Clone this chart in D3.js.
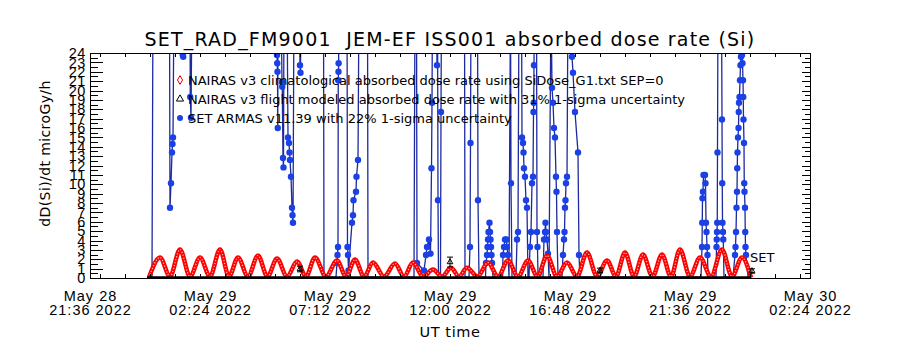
<!DOCTYPE html>
<html>
<head>
<meta charset="utf-8">
<script src="https://cdn.jsdelivr.net/npm/d3@7"></script>
<style>
  body { margin: 0; background: #fff; }
  svg { display: block; font-family: "DejaVu Sans", sans-serif; }
</style>
</head>
<body>
<div id="chart"></div>
<script>
// all times are hours after 2022-05-29 00:00 UT
// SET ARMAS v11.39 (40 = off the top of the scale)
const setHours = [0.0, 0.08, 0.12, 0.78, 0.80, 0.84, 0.88, 0.90, 0.92, 0.96,
  1.28, 1.31, 1.33, 1.36, 1.60, 1.61, 1.64, 1.68,
  5.04, 5.08, 5.09, 5.10, 5.11, 5.12, 5.24, 5.28, 5.29, 5.32, 5.34, 5.36,
  5.48, 5.52, 5.56, 5.58, 5.60, 5.64, 5.68, 5.70, 5.72, 5.76, 5.96, 6.00, 6.02, 6.04,
  6.94, 6.96, 7.44, 7.48, 7.50, 7.52, 7.53, 7.54, 7.545, 7.56,
  7.88, 7.90, 7.92, 7.94, 8.08, 8.12, 8.14, 8.24, 8.26, 8.32, 8.36, 8.70, 8.72,
  10.56, 10.60, 10.66, 10.68, 10.96, 11.04, 11.08, 11.16, 11.22, 11.26, 11.28, 11.30,
  11.46, 11.48, 11.50, 11.52, 11.54, 11.62, 11.64, 11.66,
  12.58, 12.60, 12.76, 12.80, 12.82, 12.84, 13.10, 13.12, 13.16,
  13.42, 13.44, 13.48, 13.50, 13.52, 13.54, 13.58, 13.60, 13.62, 13.64, 13.66, 13.68, 13.72,
  14.10, 14.12, 14.16, 14.20, 14.26, 14.28, 14.32, 14.36, 14.42, 14.44, 14.48,
  14.64, 14.68, 14.72, 14.76, 14.86, 14.88, 14.92, 14.94, 14.96, 15.00, 15.04, 15.08, 15.12,
  15.16, 15.20, 15.24, 15.28, 15.32, 15.34, 15.35, 15.36, 15.38, 15.46, 15.48, 15.50, 15.52,
  15.72, 15.76, 15.80, 15.82, 15.84, 15.88, 15.92, 15.96,
  16.04, 16.08, 16.12, 16.16, 16.20, 16.24, 16.26, 16.28, 16.32,
  16.48, 16.52, 16.56, 16.58, 16.60, 16.62, 16.64, 16.68, 16.72,
  16.84, 16.88, 16.92, 17.00, 17.12, 17.16, 17.20,
  22.04, 22.08, 22.09, 22.10, 22.12, 22.14, 22.20, 22.22, 22.24, 22.26, 22.28, 22.30, 22.32,
  22.64, 22.66, 22.67, 22.68, 22.69, 22.70, 22.72, 22.86, 22.88, 22.89, 22.90, 22.92, 22.93, 22.96,
  23.32, 23.40, 23.42, 23.44, 23.46, 23.48, 23.49, 23.50, 23.52, 23.54, 23.55, 23.56, 23.58,
  23.60, 23.62, 23.64, 23.68, 23.70, 23.72, 23.73, 23.74, 23.76, 23.77, 23.78, 23.80, 23.81,
  23.82, 23.84, 23.92];
const setDose = [0.1, 0.1, 40, 40, 7.5, 10.1, 13.4, 14.3, 15.0, 40,
  40, 23.8, 23.6, 40, 40, 19.3, 17.1, 40,
  40, 23.8, 22.9, 22.0, 16.0, 40, 40, 20.9, 20.4, 12.8, 11.8, 40,
  40, 15.0, 14.4, 13.4, 12.6, 10.8, 7.5, 6.7, 5.9, 40, 40, 22.7, 21.9, 40,
  40, 0.1, 0.1, 1.6, 2.45, 3.3, 21.1, 22.0, 22.9, 40,
  40, 3.3, 2.45, 0.8, 5.9, 6.7, 8.3, 9.2, 10.8, 12.6, 40, 40, 0.1,
  0.1, 40, 40, 1.6, 0.8, 2.45, 3.3, 4.1, 2.6, 11.7, 18.7, 40,
  40, 22.7, 40, 8.3, 0.1, 0.1, 17.7, 40,
  40, 0.1, 0.1, 3.3, 14.4, 40, 40, 8.3, 0.1,
  0.1, 1.6, 2.45, 3.3, 4.1, 4.9, 5.9, 4.9, 4.1, 3.3, 2.45, 1.6, 0.1,
  0.1, 2.45, 3.3, 4.1, 4.1, 3.3, 2.45, 0.1, 40, 10.1, 0.1,
  0.1, 4.1, 4.9, 40, 40, 15.0, 14.4, 13.4, 11.7, 10.8, 8.3, 7.5, 0.1,
  0.1, 3.3, 4.9, 10.1, 10.8, 17.7, 18.7, 22.7, 40, 40, 4.9, 3.3, 0.1,
  0.1, 4.1, 4.9, 5.9, 4.9, 4.1, 2.6, 0.1,
  40, 20.3, 18.7, 16.0, 15.0, 10.8, 9.2, 4.9, 0.1,
  0.1, 2.45, 4.1, 4.9, 7.5, 8.3, 10.1, 10.8, 40,
  40, 23.6, 21.9, 17.7, 13.4, 2.45, 0.1,
  0.1, 3.3, 5.9, 8.5, 9.2, 11.0, 11.0, 10.1, 5.9, 4.9, 3.3, 2.45, 0.1,
  0.1, 3.3, 4.1, 4.9, 5.9, 13.4, 40, 40, 16.9, 10.1, 5.9, 4.9, 4.1, 0.1,
  0.1, 2.45, 3.3, 4.9, 7.5, 9.2, 11.7, 13.4, 15.0, 16.0, 17.7, 18.7, 19.3,
  21.1, 22.7, 23.6, 23.8, 22.9, 21.1, 19.3, 16.9, 14.4, 10.1, 9.2, 7.5, 4.9,
  3.3, 2.45, 0.1];

// NAIRAS v3 climatological (troughs and peaks of each half-orbit)
const naiHours = [-0.04, 0.4, 0.8, 1.2, 1.6, 2.0, 2.4, 2.8, 3.16, 3.52, 3.92, 4.32, 4.7, 5.08,
  5.48, 5.88, 6.24, 6.6, 7.04, 7.48, 7.84, 8.2, 8.56, 8.92, 9.36, 9.8, 10.16, 10.52,
  10.92, 11.32, 11.68, 12.04, 12.36, 12.68, 13.1, 13.52, 13.92, 14.32, 14.72, 15.12,
  15.5, 15.88, 16.28, 16.68, 17.08, 17.48, 17.88, 18.28, 18.64, 19.0, 19.36, 19.72,
  20.1, 20.48, 20.84, 21.2, 21.6, 22.0, 22.44, 22.88, 23.28, 23.68, 24.04];
const naiDose = [0.05, 2.19, 0.15, 3.04, 0.15, 2.19, 0.15, 3.04, 0.15, 2.19, 0.15, 2.4, 0.15, 2.08,
  0.15, 1.76, 0.15, 2.19, 0.15, 1.87, 0.15, 1.97, 0.15, 1.65, 0.15, 1.55, 0.15, 1.65,
  0.15, 0.9, 0.15, 1.1, 0.15, 1.1, 0.15, 1.65, 0.15, 1.87, 0.15, 1.87,
  0.15, 2.4, 0.15, 1.65, 0.15, 2.72, 0.15, 1.87, 0.15, 2.72, 0.15, 2.5,
  0.15, 2.5, 0.15, 3.04, 0.15, 2.19, 0.15, 3.04, 0.15, 2.19, 0.05];

// NAIRAS v3 flight modeled, 31% 1-sigma
const flightHours = [6.0, 12.0, 18.0, 24.08];
const flightDose = [0.96, 1.7, 0.8, 0.75];
const flightSigma = 0.31;
const trackHours = [-0.12, 24.05];
const trackDose = [0.02, 0.02];

const xTickTimes = ["2022-05-28 21:36", "2022-05-29 02:24", "2022-05-29 07:12", "2022-05-29 12:00",
  "2022-05-29 16:48", "2022-05-29 21:36", "2022-05-30 02:24"];
const xTickLabels = [["May 28", "21:36 2022"], ["May 29", "02:24 2022"], ["May 29", "07:12 2022"],
  ["May 29", "12:00 2022"], ["May 29", "16:48 2022"], ["May 29", "21:36 2022"], ["May 30", "02:24 2022"]];
const yTickValues = [0, 1, 2, 3, 4, 5, 6, 7, 8, 9, 10, 11, 12, 13, 14, 15, 16, 17, 18, 19, 20, 21, 22, 23, 24];
const legendLabels = [
  "NAIRAS v3 climatological absorbed dose rate using SiDose_G1.txt SEP=0",
  "NAIRAS v3 flight modeled absorbed dose rate with 31% 1-sigma uncertainty",
  "SET ARMAS v11.39 with 22% 1-sigma uncertainty"
];

const W = 900, H = 350;
const margin = { top: 53, right: 90, bottom: 72, left: 90 };
const width = W - margin.left - margin.right;
const height = H - margin.top - margin.bottom;

const parseT = d3.utcParse("%Y-%m-%d %H:%M");
const t0 = Date.UTC(2022, 4, 29);
const toDate = h => new Date(t0 + h * 3600e3);

const svg = d3.select("#chart").append("svg")
  .attr("width", W).attr("height", H);
svg.append("rect").attr("width", W).attr("height", H).attr("fill", "#fff");

const g = svg.append("g").attr("transform", `translate(${margin.left},${margin.top})`);

const x = d3.scaleUtc()
  .domain([parseT(xTickTimes[0]), parseT(xTickTimes[xTickTimes.length - 1])])
  .range([0, width]);
const y = d3.scaleLinear().domain([0, 24]).range([height, 0]);

g.append("clipPath").attr("id", "plot").append("rect")
  .attr("width", width).attr("height", height);

const data = g.append("g").attr("clip-path", "url(#plot)");

// SET ARMAS line + dots
const setPts = setHours.map((h, i) => ({ t: toDate(h), v: setDose[i] }));
data.append("path")
  .datum(setPts)
  .attr("fill", "none")
  .attr("stroke", "#1c2a9e")
  .attr("stroke-width", 1.3)
  .attr("d", d3.line().x(d => x(d.t)).y(d => y(Math.min(d.v, 30))));
data.selectAll(".setdot")
  .data(setPts.filter(d => d.v > 0.5 && d.v < 25))
  .enter().append("circle")
  .attr("cx", d => x(d.t)).attr("cy", d => y(d.v))
  .attr("r", 3.2).attr("fill", "#1a40e6");

// NAIRAS climatological band
const naiPts = naiHours.map((h, i) => ({ t: toDate(h), v: naiDose[i] }));
const naiLine = d3.line().curve(d3.curveMonotoneX).x(d => x(d.t)).y(d => y(d.v));
data.append("path").datum(naiPts)
  .attr("fill", "none").attr("stroke", "#ff0000").attr("stroke-width", 4.5)
  .attr("d", naiLine);
data.append("path").datum(naiPts)
  .attr("fill", "none").attr("stroke", "#fff").attr("stroke-width", 1.2)
  .attr("stroke-dasharray", "1.2 1.8").attr("opacity", 0.75)
  .attr("d", naiLine);

// NAIRAS flight modeled
data.append("path")
  .datum(trackHours.map((h, i) => ({ t: toDate(h), v: trackDose[i] })))
  .attr("fill", "none").attr("stroke", "#000").attr("stroke-width", 3)
  .attr("d", d3.line().x(d => x(d.t)).y(d => y(d.v)));

const fl = data.selectAll(".flight")
  .data(flightHours.map((h, i) => ({ t: toDate(h), v: flightDose[i] })))
  .enter().append("g");
fl.append("line")
  .attr("x1", d => x(d.t)).attr("x2", d => x(d.t))
  .attr("y1", d => y(d.v * (1 - flightSigma))).attr("y2", d => y(d.v * (1 + flightSigma)))
  .attr("stroke", "#000");
fl.each(function(d) {
  const s = d3.select(this);
  [d.v * (1 - flightSigma), d.v * (1 + flightSigma)].forEach(v => {
    s.append("line").attr("x1", x(d.t) - 3).attr("x2", x(d.t) + 3)
      .attr("y1", y(v)).attr("y2", y(v)).attr("stroke", "#000");
  });
});
fl.append("path")
  .attr("transform", d => `translate(${x(d.t)},${y(d.v)})`)
  .attr("d", d3.symbol(d3.symbolTriangle, 14))
  .attr("fill", "none").attr("stroke", "#000");

// axes
const majorTicks = xTickTimes.map(parseT);
const minorTicks = d3.utcMinute.every(72).range(majorTicks[0], new Date(+majorTicks[6] + 1));

g.append("g").attr("transform", `translate(0,${height})`)
  .call(d3.axisBottom(x).tickValues(minorTicks).tickSize(-4).tickFormat(""))
  .call(a => a.select(".domain").remove());
g.append("g")
  .call(d3.axisTop(x).tickValues(minorTicks).tickSize(-4).tickFormat(""))
  .call(a => a.select(".domain").remove());

const xl = g.append("g").attr("transform", `translate(0,${height})`)
  .call(d3.axisBottom(x).tickValues(majorTicks).tickSize(0).tickFormat(""))
  .call(a => a.select(".domain").remove());
xl.selectAll(".tick").each(function(d, i) {
  const t = d3.select(this).append("text")
    .attr("fill", "#000").attr("text-anchor", "middle")
    .style("font-size", "14.5px").style("letter-spacing", "1px");
  t.append("tspan").attr("x", 0).attr("y", 23).text(xTickLabels[i][0]);
  t.append("tspan").attr("x", 0).attr("y", 37).text(xTickLabels[i][1]);
});

const halfTicks = d3.range(0.5, 24, 1);
g.append("g")
  .call(d3.axisLeft(y).tickValues(yTickValues).tickSize(-13).tickPadding(4))
  .call(a => a.select(".domain").remove())
  .call(a => a.selectAll("text").style("font-size", "14.5px").style("letter-spacing", "0.6px"));
g.append("g")
  .call(d3.axisLeft(y).tickValues(halfTicks).tickSize(-8).tickFormat(""))
  .call(a => a.select(".domain").remove());
g.append("g").attr("transform", `translate(${width},0)`)
  .call(d3.axisRight(y).tickValues(yTickValues).tickSize(-8).tickFormat(""))
  .call(a => a.select(".domain").remove());
g.append("g").attr("transform", `translate(${width},0)`)
  .call(d3.axisRight(y).tickValues(halfTicks).tickSize(-5).tickFormat(""))
  .call(a => a.select(".domain").remove());

g.selectAll(".tick line").attr("stroke", "#000").attr("shape-rendering", "crispEdges");

g.append("rect")
  .attr("x", 0).attr("y", 0).attr("width", width).attr("height", height)
  .attr("fill", "none").attr("stroke", "#000").attr("shape-rendering", "crispEdges");

// legend
const legend = g.append("g").attr("transform", "translate(90,27)");
const items = legend.selectAll("g").data(legendLabels).enter().append("g")
  .attr("transform", (d, i) => `translate(0,${i * 19})`);
items.append("text").attr("x", 8).attr("y", 5)
  .style("font-size", "13px").attr("fill", "#000").text(d => d);
items.each(function(d, i) {
  const s = d3.select(this);
  if (i === 0) s.append("path").attr("d", d3.symbol(d3.symbolDiamond, 22))
    .attr("fill", "none").attr("stroke", "#e00").attr("stroke-width", 1);
  if (i === 1) s.append("path").attr("d", d3.symbol(d3.symbolTriangle, 22))
    .attr("fill", "none").attr("stroke", "#000").attr("stroke-width", 1);
  if (i === 2) s.append("circle").attr("r", 3).attr("fill", "#1a40e6");
});

g.append("text").attr("x", x(toDate(24))).attr("y", y(1.7))
  .style("font-size", "13px").attr("fill", "#000").text("SET");

// titles
svg.append("text").attr("x", 450).attr("y", 46).attr("text-anchor", "middle")
  .style("font-size", "19px").style("letter-spacing", "1.2px").style("white-space", "pre")
  .attr("fill", "#000")
  .text("SET_RAD_FM9001  JEM-EF ISS001 absorbed dose rate (Si)");
svg.append("text").attr("x", 450).attr("y", 337).attr("text-anchor", "middle")
  .style("font-size", "14.5px").style("letter-spacing", "0.6px").attr("fill", "#000")
  .text("UT time");
svg.append("text")
  .attr("transform", `translate(50,${margin.top + height / 2 - 12})rotate(-90)`)
  .attr("text-anchor", "middle")
  .style("font-size", "14px").style("letter-spacing", "0.4px").attr("fill", "#000")
  .text("dD(Si)/dt microGy/h");
</script>
</body>
</html>
